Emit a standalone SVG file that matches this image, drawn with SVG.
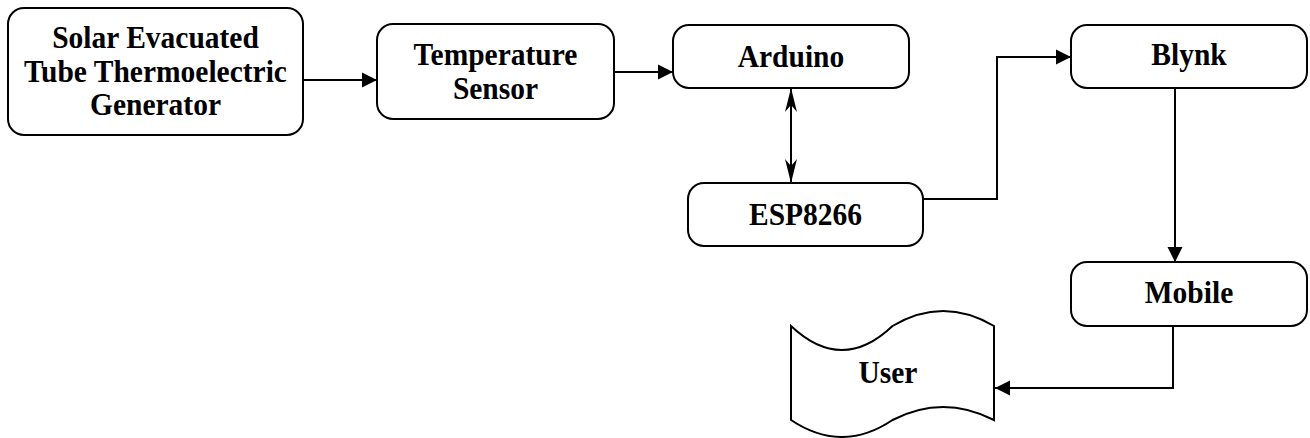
<svg xmlns="http://www.w3.org/2000/svg" width="1310" height="438" viewBox="0 0 1310 438">
<style>
.box{fill:#fff;stroke:#000;stroke-width:2}
.lbl{font-family:"Liberation Serif","Times New Roman",serif;font-weight:bold;font-size:29.5px;fill:#000;text-anchor:middle}
.edge{fill:none;stroke:#000;stroke-width:2}
</style>
<defs>
<marker id="tri" markerUnits="userSpaceOnUse" markerWidth="16" markerHeight="16" viewBox="-15 -8 16 16" refX="0" refY="0" orient="auto">
<path d="M0,0 L-15,-7.5 L-15,7.5 Z" fill="#000"/>
</marker>
<marker id="stealth" markerUnits="userSpaceOnUse" markerWidth="26" markerHeight="14" viewBox="-25 -7 26 14" refX="0" refY="0" orient="auto-start-reverse">
<path d="M0,0 L-24,-6 L-17,0 L-24,6 Z" fill="#000"/>
</marker>
</defs>
<g id="connectors">
<path class="edge" d="M303,80 L377,80" marker-end="url(#tri)"/>
<path class="edge" d="M614,72 L673,72" marker-end="url(#tri)"/>
<path class="edge" d="M791,88 L791,183" marker-start="url(#stealth)" marker-end="url(#stealth)"/>
<path class="edge" d="M923,199 L997,199 L997,57 L1071,57" marker-end="url(#tri)"/>
<path class="edge" d="M1175,88 L1175,262" marker-end="url(#tri)"/>
<path class="edge" d="M1173,326 L1173,388 L995,388" marker-end="url(#tri)"/>
</g>
<g id="solar">
<rect class="box" x="8" y="8" width="295" height="127" rx="16"/>
<text class="lbl" x="155.5" y="48" transform="translate(0,48) scale(1,1.1) translate(0,-48)">Solar Evacuated</text>
<text class="lbl" x="155.5" y="82" transform="translate(0,82) scale(1,1.1) translate(0,-82)">Tube Thermoelectric</text>
<text class="lbl" x="155.5" y="115" transform="translate(0,115) scale(1,1.1) translate(0,-115)">Generator</text>
</g>
<g id="temp">
<rect class="box" x="377" y="24" width="237" height="95" rx="16"/>
<text class="lbl" x="495.5" y="65" transform="translate(0,65) scale(1,1.1) translate(0,-65)">Temperature</text>
<text class="lbl" x="495.5" y="99" transform="translate(0,99) scale(1,1.1) translate(0,-99)">Sensor</text>
</g>
<g id="arduino">
<rect class="box" x="673" y="25" width="236" height="63" rx="16"/>
<text class="lbl" x="791" y="67" transform="translate(0,67) scale(1,1.1) translate(0,-67)">Arduino</text>
</g>
<g id="esp">
<rect class="box" x="688" y="183" width="235" height="63" rx="16"/>
<text class="lbl" x="805.5" y="225" transform="translate(0,225) scale(1,1.1) translate(0,-225)">ESP8266</text>
</g>
<g id="blynk">
<rect class="box" x="1071" y="25" width="236" height="63" rx="16"/>
<text class="lbl" x="1189" y="65" transform="translate(0,65) scale(1,1.1) translate(0,-65)">Blynk</text>
</g>
<g id="mobile">
<rect class="box" x="1071" y="262" width="236" height="64" rx="16"/>
<text class="lbl" x="1189" y="303" transform="translate(0,303) scale(1,1.1) translate(0,-303)">Mobile</text>
</g>
<g id="user">
<path class="box" d="M791,326 Q842,374 892.5,326 Q943,296 994,326 L994,420 Q943,394 892.5,420 Q842,454 791,420 Z"/>
<text class="lbl" x="888" y="383" transform="translate(0,383) scale(1,1.1) translate(0,-383)">User</text>
</g>
</svg>
